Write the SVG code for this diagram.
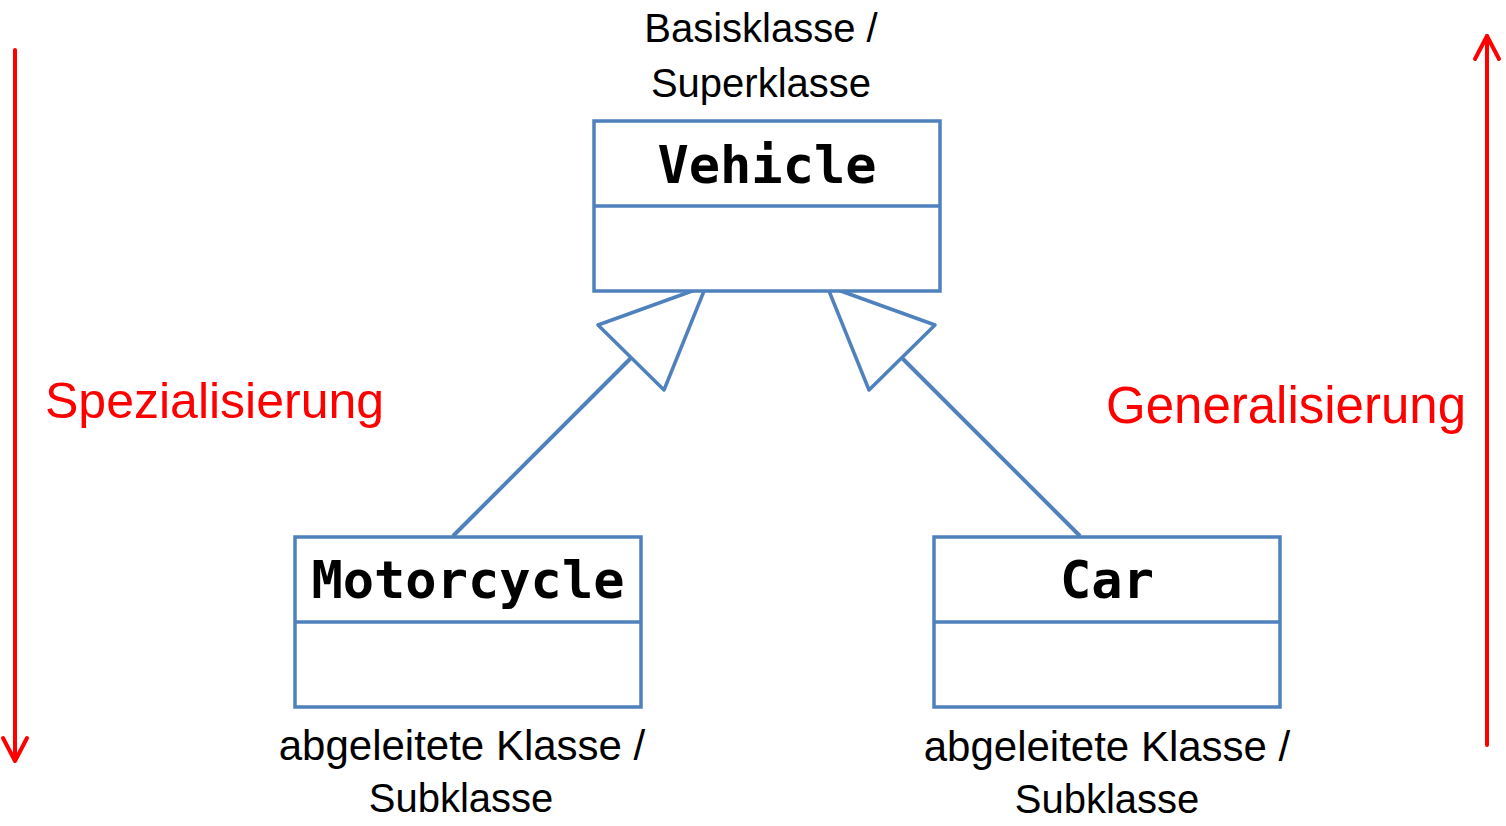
<svg xmlns="http://www.w3.org/2000/svg" width="1506" height="826" viewBox="0 0 1506 826">
<style>
.box{fill:#fff;stroke:#4f81bd;stroke-width:3.5}
.div{stroke:#4f81bd;stroke-width:3.5}
.conn{stroke:#4f81bd;stroke-width:4;fill:none}
.tri{fill:#fff;stroke:#4f81bd;stroke-width:3.5;stroke-linejoin:round}
.title{font-family:"DejaVu Sans Mono","Liberation Mono",monospace;font-weight:bold;font-size:52px;text-anchor:middle;fill:#000}
.lbl{font-family:"Liberation Sans",Arial,sans-serif;font-size:40px;text-anchor:middle;fill:#000}
.lbl2{font-family:"Liberation Sans",Arial,sans-serif;font-size:42px;text-anchor:middle;fill:#000}
.red{font-family:"Liberation Sans",Arial,sans-serif;font-size:51px;fill:#ff0000}
.rarr{stroke:#ff0000;stroke-width:4;fill:none;stroke-linecap:round;stroke-linejoin:round}
</style>
<rect width="1506" height="826" fill="#fff"/>
<g id="connectors">
  <line class="conn" x1="453" y1="536" x2="631" y2="358"/>
  <polygon class="tri" points="706,286 598,325 664,390"/>
  <line class="conn" x1="1080" y1="536" x2="902" y2="358"/>
  <polygon class="tri" points="827,286 935,325 869,390"/>
</g>
<g id="vehicle">
  <rect class="box" x="594" y="121" width="346" height="170"/>
  <line class="div" x1="594" y1="206" x2="940" y2="206"/>
  <text class="title" x="767" y="183">Vehicle</text>
</g>
<g id="motorcycle">
  <rect class="box" x="295" y="537" width="346" height="170"/>
  <line class="div" x1="295" y1="622" x2="641" y2="622"/>
  <text class="title" x="468" y="598">Motorcycle</text>
</g>
<g id="car">
  <rect class="box" x="934" y="537" width="346" height="170"/>
  <line class="div" x1="934" y1="622" x2="1280" y2="622"/>
  <text class="title" x="1107" y="598">Car</text>
</g>
<g id="labels">
  <text class="lbl" x="761" y="42">Basisklasse /</text>
  <text class="lbl" x="761" y="97">Superklasse</text>
  <text class="lbl2" x="462" y="760">abgeleitete Klasse /</text>
  <text class="lbl" x="461" y="812">Subklasse</text>
  <text class="lbl2" x="1107" y="761">abgeleitete Klasse /</text>
  <text class="lbl" x="1107" y="813">Subklasse</text>
</g>
<g id="spezialisierung">
  <line class="rarr" x1="15" y1="50" x2="15" y2="760"/>
  <polyline class="rarr" points="3,738 15,761 27,738"/>
  <text class="red" x="45" y="418" style="font-size:50px">Spezialisierung</text>
</g>
<g id="generalisierung">
  <line class="rarr" x1="1487" y1="745" x2="1487" y2="36"/>
  <polyline class="rarr" points="1475,59 1487,36 1499,59"/>
  <text class="red" x="1106" y="423">Generalisierung</text>
</g>
</svg>
